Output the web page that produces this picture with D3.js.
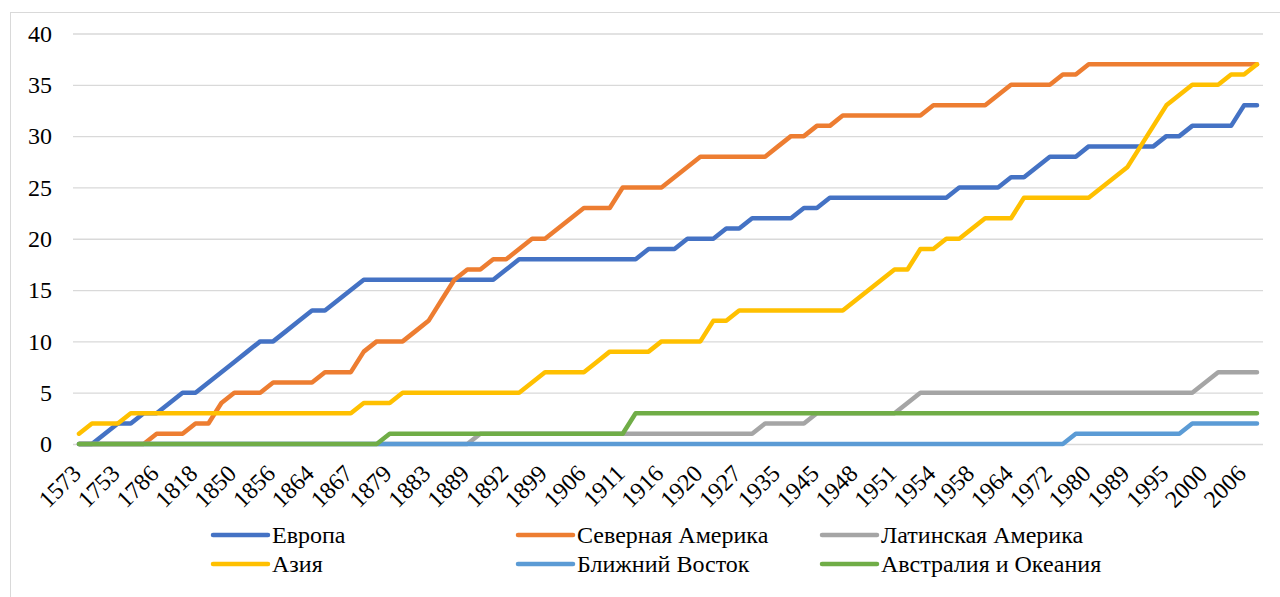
<!DOCTYPE html>
<html>
<head>
<meta charset="utf-8">
<script src="https://cdn.jsdelivr.net/npm/d3@7"></script>
<style>
  body { margin: 0; background: #fff; }
  svg { display: block; }
</style>
</head>
<body>
<svg width="1280" height="597"></svg>
<script>
const width = 1280;
const height = 597;
const font = "'Liberation Serif', 'Times New Roman', 'DejaVu Serif', serif";

// tick labels, shown on every third point
const tickLabels = ["1573", "1753", "1786", "1818", "1850", "1856", "1864", "1867", "1879", "1883",
  "1889", "1892", "1899", "1906", "1911", "1916", "1920", "1927", "1935", "1945", "1948",
  "1951", "1954", "1958", "1964", "1972", "1980", "1989", "1995", "2000", "2006"];
const labelStep = 3;

const seriesNames = ["Европа", "Северная Америка", "Латинская Америка", "Азия", "Ближний Восток", "Австралия и Океания"];
const colors = ["#4472C4", "#ED7D31", "#A5A5A5", "#FFC000", "#5B9BD5", "#70AD47"];

const europe = [0,0,1,2,2,3,3,4,5,5, 6,7,8,9,10,10,11,12,13,13, 14,15,16,16,16,16,16,16,16,16,
  16,16,16,17,18,18,18,18,18,18, 18,18,18,18,19,19,19,20,20,20, 21,21,22,22,22,22,23,23,24,24,
  24,24,24,24,24,24,24,24,25,25, 25,25,26,26,27,28,28,28,29,29, 29,29,29,29,30,30,31,31,31,31, 33,33];
const northAmerica = [0,0,0,0,0,0,1,1,1,2, 2,4,5,5,5,6,6,6,6,7, 7,7,9,10,10,10,11,12,14,16,
  17,17,18,18,19,20,20,21,22,23, 23,23,25,25,25,25,26,27,28,28, 28,28,28,28,29,30,30,31,31,32,
  32,32,32,32,32,32,33,33,33,33, 33,34,35,35,35,35,36,36,37,37, 37,37,37,37,37,37,37,37,37,37, 37,37];
const latinAmerica = [0,0,0,0,0,0,0,0,0,0, 0,0,0,0,0,0,0,0,0,0, 0,0,0,0,0,0,0,0,0,0,
  0,1,1,1,1,1,1,1,1,1, 1,1,1,1,1,1,1,1,1,1, 1,1,1,2,2,2,2,3,3,3,
  3,3,3,3,4,5,5,5,5,5, 5,5,5,5,5,5,5,5,5,5, 5,5,5,5,5,5,5,6,7,7, 7,7];
const asia = [1,2,2,2,3,3,3,3,3,3, 3,3,3,3,3,3,3,3,3,3, 3,3,4,4,4,5,5,5,5,5,
  5,5,5,5,5,6,7,7,7,7, 8,9,9,9,9,10,10,10,10,12, 12,13,13,13,13,13,13,13,13,13,
  14,15,16,17,17,19,19,20,20,21, 22,22,22,24,24,24,24,24,24,25, 26,27,29,31,33,34,35,35,35,36, 36,37];
const middleEast = [0,0,0,0,0,0,0,0,0,0, 0,0,0,0,0,0,0,0,0,0, 0,0,0,0,0,0,0,0,0,0,
  0,0,0,0,0,0,0,0,0,0, 0,0,0,0,0,0,0,0,0,0, 0,0,0,0,0,0,0,0,0,0,
  0,0,0,0,0,0,0,0,0,0, 0,0,0,0,0,0,0,1,1,1, 1,1,1,1,1,1,2,2,2,2, 2,2];
const australia = [0,0,0,0,0,0,0,0,0,0, 0,0,0,0,0,0,0,0,0,0, 0,0,0,0,1,1,1,1,1,1,
  1,1,1,1,1,1,1,1,1,1, 1,1,1,3,3,3,3,3,3,3, 3,3,3,3,3,3,3,3,3,3,
  3,3,3,3,3,3,3,3,3,3, 3,3,3,3,3,3,3,3,3,3, 3,3,3,3,3,3,3,3,3,3, 3,3];

const series = [europe, northAmerica, latinAmerica, asia, middleEast, australia];
const yTicks = [0, 5, 10, 15, 20, 25, 30, 35, 40];

const plot = { left: 73, right: 1263, top: 33.5, bottom: 444 };

const svg = d3.select("svg");

// chart border
svg.append("rect")
  .attr("x", 10.5).attr("y", 12.5)
  .attr("width", 1300).attr("height", 620)
  .attr("fill", "none").attr("stroke", "#d9d9d9");

const xScale = d3.scalePoint()
  .domain(d3.range(europe.length))
  .range([79, 1257]);
const yScale = d3.scaleLinear().domain([0, 40]).range([plot.bottom, plot.top]);

// y axis with gridlines
const yAxis = d3.axisLeft(yScale)
  .tickValues(yTicks)
  .tickSize(-(plot.right - plot.left))
  .tickPadding(21);
const gy = svg.append("g")
  .attr("transform", `translate(${plot.left},0)`)
  .call(yAxis);
gy.select(".domain").remove();
gy.selectAll("line").attr("stroke", "#d9d9d9").attr("stroke-width", 1.3);
gy.selectAll("text")
  .style("font-family", font)
  .style("font-size", "24px")
  .attr("fill", "#000");

// x axis labels
const xAxis = d3.axisBottom(xScale)
  .tickValues(tickLabels.map((d, i) => i * labelStep))
  .tickFormat(d => tickLabels[d / labelStep])
  .tickSize(0);
const gx = svg.append("g")
  .attr("transform", `translate(0,${plot.bottom})`)
  .call(xAxis);
gx.select(".domain").remove();
gx.selectAll("text")
  .style("font-family", font)
  .style("font-size", "24px")
  .attr("fill", "#000")
  .attr("text-anchor", "end")
  .attr("dy", null)
  .attr("y", null)
  .attr("transform", "translate(3,31) rotate(-45)");

// lines
const line = d3.line()
  .x((d, i) => xScale(i))
  .y(d => yScale(d));

svg.append("g")
  .selectAll("path")
  .data(series)
  .enter()
  .append("path")
  .attr("d", line)
  .attr("fill", "none")
  .attr("stroke", (d, i) => colors[i])
  .attr("stroke-width", 4.5)
  .attr("stroke-linejoin", "round")
  .attr("stroke-linecap", "round");

// legend
const legendCols = [213, 518, 822];
const legendRows = [535, 564];
const legend = svg.append("g")
  .selectAll("g")
  .data(seriesNames)
  .enter()
  .append("g")
  .attr("transform", (d, i) => `translate(${legendCols[i % 3]},${legendRows[Math.floor(i / 3)]})`);

legend.append("line")
  .attr("x1", 0).attr("x2", 55)
  .attr("stroke", (d, i) => colors[i])
  .attr("stroke-width", 4.5)
  .attr("stroke-linecap", "round");

legend.append("text")
  .attr("x", 59)
  .attr("y", 8)
  .style("font-family", font)
  .style("font-size", "24px")
  .text(d => d);
</script>
</body>
</html>
